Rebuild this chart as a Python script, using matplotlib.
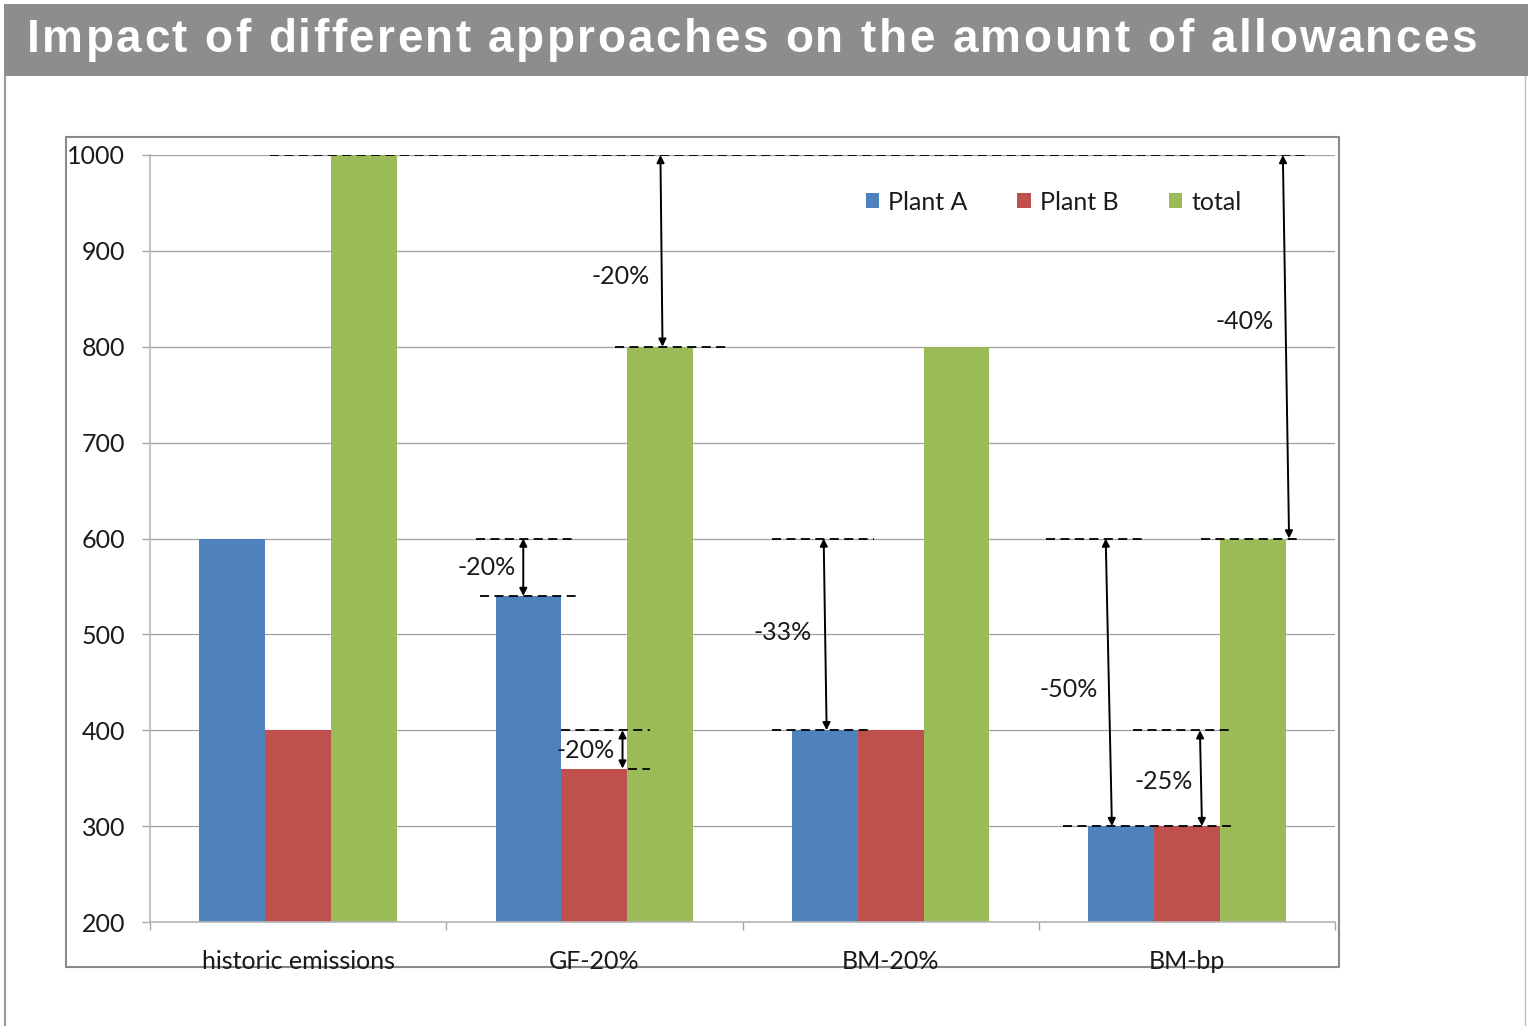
import matplotlib
matplotlib.use("Agg")
import matplotlib.pyplot as plt
from matplotlib.patches import Rectangle
from matplotlib.font_manager import FontProperties
import numpy as np

plt.rcParams['font.family'] = ['Lato', 'DejaVu Sans']

categories = ['historic emissions', 'GF-20%', 'BM-20%', 'BM-bp']
plant_a = [600, 540, 400, 300]
plant_b = [400, 360, 400, 300]
total = [1000, 800, 800, 600]
series_names = ['Plant A', 'Plant B', 'total']
colors = ['#4F81BD', '#C0504D', '#9BBB59']
title = 'Impact of different approaches on the amount of allowances'

W, H = 1528, 1026
FS = 18
fig = plt.figure(figsize=(W / 100, H / 100), dpi=100)
fig.patch.set_facecolor('white')


def fx(px):
    return px / W


def fy(py):
    return 1 - py / H


# grey title bar and the white panel below it
fig.patches.append(Rectangle((fx(4), fy(76)), fx(1524), 72 / H, transform=fig.transFigure,
                             facecolor='#8C8D8F', edgecolor='none', zorder=-2))
fig.add_artist(plt.Line2D([fx(5), fx(5)], [fy(76), 0], color='#9A9A9A', lw=1.5))
fig.add_artist(plt.Line2D([fx(1525), fx(1525)], [fy(76), 0], color='#BDBDBD', lw=1.0))

# title with widened letter spacing
renderer = fig.canvas.get_renderer()
tprop = FontProperties(family=['Liberation Sans', 'DejaVu Sans'], weight='bold', size=33)
full_w = renderer.get_text_width_height_descent(title, tprop, ismath=False)[0]
extra = (1450 - full_w) / (len(title) - 1)
for i, ch in enumerate(title):
    pre = renderer.get_text_width_height_descent(title[:i], tprop, ismath=False)[0] if i else 0
    fig.text(fx(27 + pre + i * extra), fy(40), ch, color='white', fontproperties=tprop,
             va='center', ha='left')

# chart frame
box = Rectangle((fx(66), fy(967)), fx(1339 - 66), (967 - 137) / H, transform=fig.transFigure,
                facecolor='white', edgecolor='#8A8A8A', lw=1.5, zorder=-1)
fig.patches.append(box)

ax = fig.add_axes([fx(150), fy(922), fx(1335 - 150), (922 - 155) / H])
ax.set_facecolor('none')

x = np.arange(len(categories))
w = 0.222
for i, (vals, c, name) in enumerate(zip([plant_a, plant_b, total], colors, series_names)):
    ax.bar(x + (i - 1) * w, np.array(vals) - 200, bottom=200, width=w, color=c,
           label=name, zorder=2)

ax.set_ylim(200, 1000)
ax.set_xlim(-0.5, 3.5)
ax.set_yticks(range(200, 1001, 100))
ax.yaxis.grid(True, color='#A0A0A0', lw=0.9, zorder=0)
ax.set_axisbelow(True)
ax.set_xticks([-0.5, 0.5, 1.5, 2.5, 3.5])
ax.set_xticklabels([])
ax.tick_params(axis='x', length=6, color='#A6A6A6', width=1)
ax.tick_params(axis='y', length=6, color='#A6A6A6', width=1, pad=12,
               labelsize=FS, labelcolor='#1A1A1A')
for s in ['top', 'right']:
    ax.spines[s].set_visible(False)
for s in ['left', 'bottom']:
    ax.spines[s].set_color('#B5B5B5')
    ax.spines[s].set_linewidth(1.2)

# category labels, cut off by the chart frame
for xi, lab in zip(x, categories):
    t = ax.text(xi, -0.0615, lab, transform=ax.get_xaxis_transform(), ha='center',
                va='baseline', fontsize=FS, color='#1A1A1A')
    t.set_clip_path(box)

# dashed reference lines: (y, x0, x1)
dashes = [
    (total[0], -0.095, 3.412),
    (total[1], 1.068, 1.449),
    (plant_a[0], 0.601, 0.943),
    (plant_a[1], 0.615, 0.943),
    (plant_b[0], 0.889, 1.189),
    (plant_b[1], 1.115, 1.189),
    (plant_a[0], 1.598, 1.943),
    (plant_a[2], 1.598, 1.929),
    (plant_a[0], 2.524, 2.861),
    (plant_a[3], 2.581, 3.155),
    (plant_b[0], 2.818, 3.159),
    (total[3], 3.047, 3.385),
]
for yv, x0, x1 in dashes:
    ax.plot([x0, x1], [yv, yv], color='black', lw=1.3, ls=(0, (5, 3)), zorder=3)

# double arrows with their percentage labels: (x0, y0, x1, y1, text, tx, ty)
arrows = [
    (1.223, total[0], 1.230, total[1], '-20%', 1.088, 873),
    (0.760, plant_a[0], 0.760, plant_a[1], '-20%', 0.635, 570),
    (1.095, plant_b[0], 1.095, plant_b[1], '-20%', 0.970, 379),
    (1.774, plant_a[0], 1.784, plant_a[2], '-33%', 1.635, 502),
    (2.726, plant_a[0], 2.747, plant_a[3], '-50%', 2.601, 442),
    (3.044, plant_b[0], 3.051, plant_b[3], '-25%', 2.922, 347),
    (3.324, total[0], 3.345, total[3], '-40%', 3.196, 826),
]
for x0, y0, x1, y1, lab, tx, ty in arrows:
    ax.annotate('', xy=(x1, y1), xytext=(x0, y0),
                arrowprops=dict(arrowstyle='<|-|>', color='black', lw=1.4,
                                mutation_scale=11, shrinkA=0, shrinkB=0), zorder=4)
    ax.text(tx, ty, lab, ha='center', va='center', fontsize=FS, color='#1A1A1A', zorder=5)

leg = ax.legend(loc='center left', bbox_to_anchor=(fx(843), fy(202)),
                bbox_transform=fig.transFigure, ncol=3, frameon=False, fontsize=FS,
                handlelength=0.55, handleheight=0.55, handletextpad=0.35, columnspacing=2.0)
for t in leg.get_texts():
    t.set_color('#1A1A1A')

fig.savefig('out.png', dpi=100)
